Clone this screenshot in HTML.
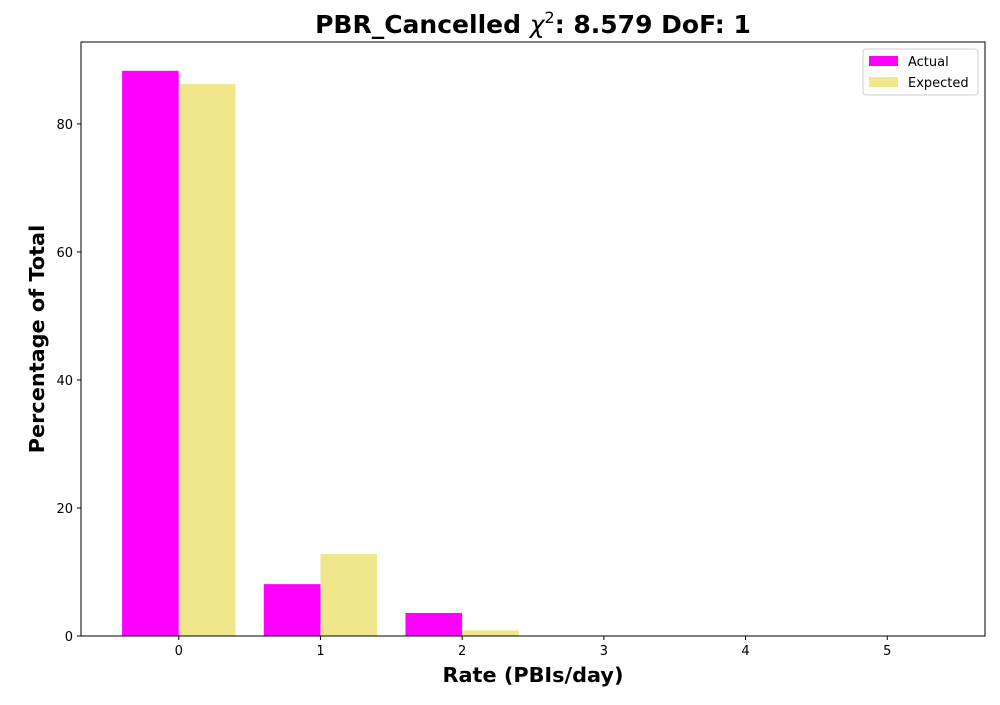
<!DOCTYPE html>
<html><head><meta charset="utf-8"><style>
body{margin:0;background:#fff;font-family:"Liberation Sans","DejaVu Sans",sans-serif}
</style></head><body>
<svg id="chart" width="1000" height="700" xmlns="http://www.w3.org/2000/svg">
<text x="533" y="33" text-anchor="middle" font-size="25" font-weight="bold" font-family="DejaVu Sans, sans-serif">PBR_Cancelled <tspan font-style="italic" font-weight="normal">χ</tspan><tspan dy="-10" font-size="16" font-weight="normal">2</tspan><tspan dy="10">: 8.579 DoF: 1</tspan></text>
<g id="bars"></g>
<g id="axes"></g>
<text x="533" y="682" text-anchor="middle" font-size="20.8" font-weight="bold" font-family="DejaVu Sans, sans-serif">Rate (PBIs/day)</text>
<text transform="translate(44,339) rotate(-90)" text-anchor="middle" font-size="20.8" font-weight="bold" font-family="DejaVu Sans, sans-serif">Percentage of Total</text>
<g>
<rect x="863" y="49" width="115" height="46" fill="#fff" stroke="#ccc" rx="3"/>
<rect x="869" y="56" width="29" height="10" fill="#ff00ff"/>
<text x="908" y="66" font-size="13" font-family="DejaVu Sans, sans-serif">Actual</text>
<rect x="869" y="77" width="29" height="10" fill="#f0e68c"/>
<text x="908" y="87" font-size="13" font-family="DejaVu Sans, sans-serif">Expected</text>
</g>
</svg>
<script>
const categories=[0,1,2,3,4,5];
const actual=[88.3,8.1,3.6,0,0,0];
const expected=[86.25,12.8,0.9,0.1,0,0];
const yTicks=[0,20,40,60,80];
const L=81,R=985,T=42,B=636,xmin=-0.69,xmax=5.69,ymax=92.8;
const sx=v=>L+(v-xmin)/(xmax-xmin)*(R-L);
const sy=v=>B-v/ymax*(B-T);
const NS="http://www.w3.org/2000/svg";
const bars=document.getElementById('bars'),axes=document.getElementById('axes');
function mk(tag,at,parent){const e=document.createElementNS(NS,tag);for(const k in at)e.setAttribute(k,at[k]);parent.appendChild(e);return e;}
categories.forEach((c,i)=>{
 const a=mk('rect',{x:sx(c-0.4),y:sy(actual[i]),width:sx(c)-sx(c-0.4),height:B-sy(actual[i]),fill:'#ff00ff'},bars);
 
 
 const e=mk('rect',{x:sx(c),y:sy(expected[i]),width:sx(c+0.4)-sx(c),height:B-sy(expected[i]),fill:'#f0e68c'},bars);
 
 
 mk('line',{x1:sx(c),x2:sx(c),y1:B,y2:B+4,stroke:'#000'},axes);
 const t=mk('text',{x:sx(c),y:B+19,'text-anchor':'middle','font-size':13,'font-family':'DejaVu Sans, sans-serif'},axes);
 t.textContent=c;
 
 
});
yTicks.forEach(v=>{
 mk('line',{x1:L-4,x2:L,y1:sy(v),y2:sy(v),stroke:'#000'},axes);
 const t=mk('text',{x:L-8,y:sy(v)+5,'text-anchor':'end','font-size':13,'font-family':'DejaVu Sans, sans-serif'},axes);
 t.textContent=v;
 
 
});
const f=mk('rect',{x:L,y:T,width:R-L,height:B-T,fill:'none',stroke:'#000','stroke-width':1},axes);


</script>
</body></html>
